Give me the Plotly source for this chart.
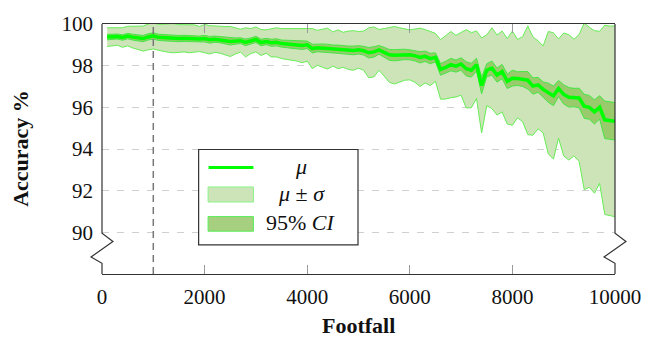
import plotly.graph_objects as go

# ---- data -------------------------------------------------------------
footfall = list(range(100, 10001, 100))

mean_acc = [
    99.37, 99.38, 99.40, 99.35, 99.42, 99.37, 99.33, 99.30, 99.38, 99.43,
    99.36, 99.34, 99.33, 99.32, 99.30, 99.31, 99.29, 99.30, 99.28, 99.30,
    99.24, 99.27, 99.25, 99.20, 99.16, 99.18, 99.20, 99.12, 99.18, 99.26,
    99.11, 99.16, 99.10, 99.12, 99.06, 99.04, 99.02, 99.00, 98.97, 99.00,
    98.82, 98.86, 98.84, 98.82, 98.80, 98.79, 98.76, 98.74, 98.73, 98.76,
    98.72, 98.62, 98.66, 98.76, 98.64, 98.52, 98.50, 98.52, 98.54, 98.52,
    98.48, 98.40, 98.45, 98.34, 98.40, 97.82, 97.92, 98.05, 97.98, 98.08,
    97.85, 97.78, 98.05, 97.05, 97.78, 97.88, 97.55, 97.72, 97.25, 97.40,
    97.38, 97.35, 97.30, 97.02, 97.08, 96.86, 96.70, 96.55, 96.90, 96.62,
    96.48, 96.47, 96.45, 96.05, 96.00, 95.78, 96.00, 95.40, 95.35, 95.33,
]

std_acc = [
    0.45, 0.43, 0.42, 0.47, 0.47, 0.52, 0.55, 0.60, 0.62, 0.63,
    0.62, 0.66, 0.69, 0.70, 0.67, 0.65, 0.67, 0.66, 0.60, 0.68,
    0.68, 0.63, 0.65, 0.68, 0.72, 0.62, 0.55, 0.70, 0.60, 0.60,
    0.62, 0.56, 0.68, 0.70, 0.72, 0.74, 0.76, 0.78, 0.83, 0.78,
    0.96, 0.84, 0.92, 0.98, 0.82, 0.93, 0.84, 0.92, 0.95, 0.88,
    0.94, 1.20, 1.20, 0.98, 1.14, 1.32, 1.38, 1.30, 1.24, 1.20,
    1.28, 1.40, 1.28, 1.30, 1.15, 1.43, 1.52, 1.59, 1.48, 1.50,
    1.88, 1.80, 1.62, 2.28, 1.70, 1.94, 1.92, 1.94, 2.05, 2.26,
    1.88, 2.04, 2.61, 2.36, 2.11, 2.09, 2.94, 3.03, 2.38, 2.95,
    3.01, 2.80, 3.04, 4.00, 3.84, 3.90, 3.65, 4.54, 4.55, 4.58,
]

ci95_half = [
    0.13, 0.13, 0.12, 0.13, 0.13, 0.14, 0.14, 0.15, 0.15, 0.15,
    0.15, 0.15, 0.16, 0.16, 0.15, 0.15, 0.15, 0.15, 0.14, 0.16,
    0.16, 0.15, 0.15, 0.16, 0.17, 0.15, 0.14, 0.16, 0.15, 0.15,
    0.16, 0.15, 0.17, 0.17, 0.17, 0.18, 0.18, 0.18, 0.19, 0.18,
    0.21, 0.19, 0.20, 0.21, 0.19, 0.20, 0.19, 0.20, 0.21, 0.20,
    0.21, 0.25, 0.25, 0.21, 0.24, 0.26, 0.27, 0.26, 0.25, 0.24,
    0.25, 0.27, 0.25, 0.25, 0.22, 0.28, 0.29, 0.30, 0.29, 0.30,
    0.34, 0.33, 0.31, 0.40, 0.31, 0.34, 0.34, 0.34, 0.35, 0.38,
    0.33, 0.35, 0.42, 0.39, 0.36, 0.36, 0.46, 0.47, 0.39, 0.46,
    0.47, 0.44, 0.47, 0.58, 0.57, 0.58, 0.56, 0.90, 0.90, 0.90,
]

x_ticks = [0, 2000, 4000, 6000, 8000, 10000]
y_ticks = [90, 92, 94, 96, 98, 100]
warmup_footfall = 1000

# ---- derived band edges ---------------------------------------------
sd_hi = [m + s for m, s in zip(mean_acc, std_acc)]
sd_lo = [m - s for m, s in zip(mean_acc, std_acc)]
ci_hi = [m + c for m, c in zip(mean_acc, ci95_half)]
ci_lo = [m - c for m, c in zip(mean_acc, ci95_half)]

# ---- styling --------------------------------------------------------
W, H = 653, 346
ML, MR, MT, MB = 102, 36, 17, 72
FONT = "Liberation Serif, Times New Roman, serif"
SD_FILL = "#cde4b9"
SD_EDGE = "#66ee55"
CI_FILL = "#99ca6c"
CI_EDGE = "#44e844"
MEAN_COL = "#00ff00"
FRAME = "#333333"

pw, ph = W - ML - MR, H - MT - MB


def px(xp, yp):
    """pixel position -> paper coordinates"""
    return (xp - ML) / pw, 1 - (yp - MT) / ph


fig = go.Figure()

fig.add_trace(go.Scatter(x=footfall, y=sd_lo, mode="lines",
                         line=dict(color=SD_EDGE, width=1), showlegend=False,
                         hoverinfo="skip"))
fig.add_trace(go.Scatter(x=footfall, y=sd_hi, mode="lines", fill="tonexty",
                         fillcolor=SD_FILL, line=dict(color=SD_EDGE, width=1),
                         showlegend=False, hoverinfo="skip"))
fig.add_trace(go.Scatter(x=footfall, y=ci_lo, mode="lines",
                         line=dict(color=CI_EDGE, width=1), showlegend=False,
                         hoverinfo="skip"))
fig.add_trace(go.Scatter(x=footfall, y=ci_hi, mode="lines", fill="tonexty",
                         fillcolor=CI_FILL, line=dict(color=CI_EDGE, width=1),
                         showlegend=False, hoverinfo="skip"))
fig.add_trace(go.Scatter(x=footfall, y=mean_acc, mode="lines",
                         line=dict(color=MEAN_COL, width=3.5),
                         showlegend=False))

shapes = []

# vertical marker
shapes.append(dict(type="line", xref="x", yref="paper",
                   x0=warmup_footfall, x1=warmup_footfall, y0=0, y1=1,
                   line=dict(color="#777777", width=1.5, dash="7px,5px"),
                   layer="above"))


# left/right frame with axis-break zigzags
def side_path(xpix, sign):
    pts = [(xpix, MT), (xpix, 232), (xpix + 11 * sign, 240.5),
           (xpix - 11 * sign, 256.5), (xpix, 263), (xpix, H - MB)]
    d = ""
    for i, (a, b) in enumerate(pts):
        u, v = px(a, b)
        d += ("M" if i == 0 else "L") + f"{u:.5f},{v:.5f} "
    return d


for xpix in (ML, W - MR):
    shapes.append(dict(type="path", xref="paper", yref="paper",
                       path=side_path(xpix, 1), line=dict(color=FRAME, width=1.2),
                       layer="above"))

# legend box
lx0, ly0, lx1, ly1 = 199, 146, 359, 244
u0, v0 = px(lx0, ly0)
u1, v1 = px(lx1, ly1)
shapes.append(dict(type="rect", xref="paper", yref="paper", x0=u0, y0=v1,
                   x1=u1, y1=v0, fillcolor="white",
                   line=dict(color=FRAME, width=1.2), layer="above"))
a, b = px(209, 164.5)
c, _ = px(254, 164.5)
shapes.append(dict(type="line", xref="paper", yref="paper", x0=a, x1=c,
                   y0=b, y1=b, line=dict(color=MEAN_COL, width=3),
                   layer="above"))
for (ya, yb, fc, ec) in [(184.5, 200, SD_FILL, "#88f588"),
                         (215, 230, "#a6d07f", "#55ee55")]:
    a, b = px(208.5, ya)
    c, d = px(254, yb)
    shapes.append(dict(type="rect", xref="paper", yref="paper", x0=a, x1=c,
                       y0=d, y1=b, fillcolor=fc, line=dict(color=ec, width=1),
                       layer="above"))

annotations = []
for text, ypix in [("<i>μ</i>", 163), ("<i>μ</i> ± <i>σ</i>", 191),
                   ("95% <i>CI</i>", 221.5)]:
    u, v = px(302, ypix)
    annotations.append(dict(text=text, xref="paper", yref="paper", x=u, y=v,
                            xanchor="center", yanchor="middle",
                            showarrow=False,
                            font=dict(family=FONT, size=22, color="#111")))

u, v = px(20, 145)
annotations.append(dict(text="<b>Accuracy %</b>", xref="paper", yref="paper",
                        x=u, y=v, textangle=-90, xanchor="center",
                        yanchor="middle", showarrow=False,
                        font=dict(family=FONT, size=22, color="#111")))
u, v = px(359, 327)
annotations.append(dict(text="<b>Footfall</b>", xref="paper", yref="paper",
                        x=u, y=v, xanchor="center", yanchor="middle",
                        showarrow=False,
                        font=dict(family=FONT, size=22, color="#111")))

fig.update_layout(
    width=W, height=H, autosize=False,
    margin=dict(l=ML, r=MR, t=MT, b=MB, pad=0),
    paper_bgcolor="white", plot_bgcolor="white",
    font=dict(family=FONT, size=21, color="#111"),
    shapes=shapes, annotations=annotations, showlegend=False,
    xaxis=dict(range=[0, 10000], tickvals=x_ticks,
               ticktext=[str(t) for t in x_ticks],
               showgrid=False, zeroline=False,
               showline=True, linecolor=FRAME, linewidth=1.2, mirror="ticks",
               ticks="inside", ticklen=9, tickcolor="#9a9a9a", tickwidth=1,
               tickfont=dict(family=FONT, size=21, color="#111"),
               ticklabelstandoff=4),
    yaxis=dict(range=[88, 100], tickvals=y_ticks,
               ticktext=[str(t) for t in y_ticks],
               showgrid=True, gridcolor="#d0d0d0", gridwidth=1.2,
               griddash="7px,8px", zeroline=False, showline=False,
               ticks="", tickfont=dict(family=FONT, size=21, color="#111"),
               ticklabelstandoff=8),
)

fig.write_html("out.html")
